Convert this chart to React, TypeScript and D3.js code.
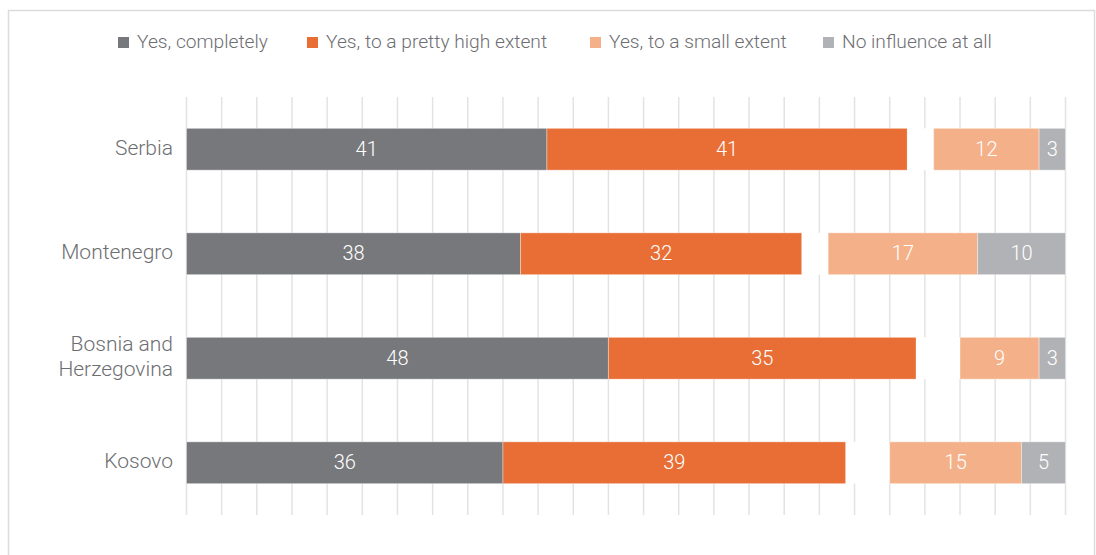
import React from "react";
import * as d3 from "d3";

const categories = ["Serbia", "Montenegro", "Bosnia and Herzegovina", "Kosovo"];
const categoryLines = [["Serbia"], ["Montenegro"], ["Bosnia and", "Herzegovina"], ["Kosovo"]];
const seriesNames = ["Yes, completely", "Yes, to a pretty high extent", "Don't know", "Yes, to a small extent", "No influence at all"];
const completely = [41, 38, 48, 36];
const prettyHigh = [41, 32, 35, 39];
const smallExtent = [12, 17, 9, 15];
const noInfluence = [3, 10, 3, 5];
const gapValues = categories.map((_, i) => 100 - completely[i] - prettyHigh[i] - smallExtent[i] - noInfluence[i]);
const xTicks = d3.range(0, 101, 4);

const colors = ["#77787b", "#e86e35", "#ffffff", "#f4b189", "#b1b2b5"];
const legendItems = [
  { name: "Yes, completely", color: "#77787b", x: 118 },
  { name: "Yes, to a pretty high extent", color: "#e86e35", x: 307 },
  { name: "Yes, to a small extent", color: "#f4b189", x: 590 },
  { name: "No influence at all", color: "#b1b2b5", x: 823 },
];

const FONT = "Roboto, 'Open Sans', sans-serif";

export default function App() {
  const W = 1096, H = 555;
  const x = d3.scaleLinear().domain([0, 100]).range([186.5, 1065.5]);
  const y = d3.scaleBand<string>().domain(categories).range([97, 515]).paddingInner(0.6).paddingOuter(0.3);

  const rows = categories.map((c, i) => {
    const vals = [completely[i], prettyHigh[i], gapValues[i], smallExtent[i], noInfluence[i]];
    const stacked = d3.cumsum(vals);
    return vals.map((v, j) => ({ cat: c, v, j, x0: stacked[j] - v, x1: stacked[j] }));
  });

  return (
    <svg width={W} height={H} style={{ position: "absolute", left: 0, top: 0, background: "#fff" }} fontFamily={FONT} fontWeight={300}>
      <rect x={8.5} y={10.5} width={1086} height={600} fill="#fff" stroke="#dcdcdc" strokeWidth={1.5} />
      {/* legend */}
      {legendItems.map((l) => (
        <g key={l.name}>
          <rect x={l.x} y={37} width={11} height={11} fill={l.color} />
          <text x={l.x + 19} y={43} dominantBaseline="middle" fontSize={19.2} fill="#6d6e71">{l.name}</text>
        </g>
      ))}
      {/* gridlines */}
      {xTicks.map((t) => (
        <line key={t} x1={x(t)} x2={x(t)} y1={97} y2={515} stroke="#e3e3e3" strokeWidth={1.5} />
      ))}
      {/* bars */}
      {rows.map((row, i) => (
        <g key={categories[i]}>
          {row.map((s) => (
            <rect key={s.j} x={x(s.x0)} y={y(s.cat)} width={x(s.x1) - x(s.x0)} height={y.bandwidth()}
              fill={colors[s.j]} stroke={s.j === 2 ? "none" : "#ffffff"} strokeOpacity={0.35} strokeWidth={1} />
          ))}
          {row.filter((s) => s.j !== 2).map((s) => (
            <text key={"t" + s.j} x={(x(s.x0) + x(s.x1)) / 2} y={(y(s.cat) as number) + y.bandwidth() / 2 + 1}
              textAnchor="middle" dominantBaseline="middle" fontSize={20} fill="#ffffff">{s.v}</text>
          ))}
        </g>
      ))}
      {/* category labels */}
      {categoryLines.map((lines, i) => {
        const cy = (y(categories[i]) as number) + y.bandwidth() / 2;
        return (
          <text key={categories[i]} x={173} textAnchor="end" fontSize={21} fill="#6d6e71">
            {lines.map((ln, k) => (
              <tspan key={k} x={173} y={cy + (k - (lines.length - 1) / 2) * 25} dominantBaseline="middle">{ln}</tspan>
            ))}
          </text>
        );
      })}
    </svg>
  );
}
